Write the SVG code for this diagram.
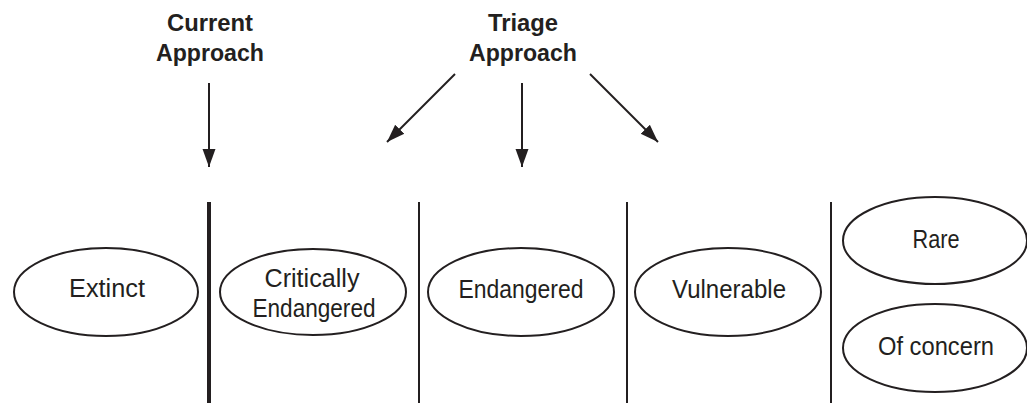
<svg xmlns="http://www.w3.org/2000/svg" width="1027" height="403" viewBox="0 0 1027 403">
<style>
.node ellipse{fill:#fff;stroke:#231f20;stroke-width:2}
.lbl{font-family:"Liberation Sans",Arial,sans-serif;font-size:25px;fill:#231f20;text-anchor:middle}
.hdr{font-family:"Liberation Sans",Arial,sans-serif;font-size:24px;font-weight:bold;fill:#231f20;text-anchor:middle}
.conn line{stroke:#231f20;stroke-width:2;fill:none}
.div{stroke:#231f20;fill:none}
</style>
<defs>
<marker id="ah" viewBox="0 0 10 10" refX="10" refY="5" markerWidth="18" markerHeight="18" markerUnits="userSpaceOnUse" orient="auto">
<path d="M0,1.4 L10,5 L0,8.6 Z" fill="#231f20"/>
</marker>
</defs>
<rect width="1027" height="403" fill="#fff"/>
<g id="headers">
<text class="hdr" x="210" y="31" textLength="86" lengthAdjust="spacingAndGlyphs">Current</text>
<text class="hdr" x="210" y="61" textLength="108" lengthAdjust="spacingAndGlyphs">Approach</text>
<text class="hdr" x="523" y="31" textLength="70" lengthAdjust="spacingAndGlyphs">Triage</text>
<text class="hdr" x="523" y="61" textLength="108" lengthAdjust="spacingAndGlyphs">Approach</text>
</g>
<g id="dividers">
<line class="div" x1="209" y1="202" x2="209" y2="403" stroke-width="4"/>
<line class="div" x1="419" y1="202" x2="419" y2="403" stroke-width="2"/>
<line class="div" x1="627" y1="202" x2="627" y2="403" stroke-width="2"/>
<line class="div" x1="831" y1="202" x2="831" y2="403" stroke-width="2"/>
</g>
<g class="conn" id="connectors">
<line x1="209" y1="83" x2="209" y2="167" marker-end="url(#ah)"/>
<line x1="455" y1="74" x2="387" y2="142" marker-end="url(#ah)"/>
<line x1="522" y1="83" x2="522" y2="167" marker-end="url(#ah)"/>
<line x1="590" y1="74" x2="658" y2="142" marker-end="url(#ah)"/>
</g>
<g class="node" id="extinct">
<ellipse cx="106" cy="292" rx="92" ry="44"/>
<text class="lbl" x="107" y="297" textLength="76" lengthAdjust="spacingAndGlyphs">Extinct</text>
</g>
<g class="node" id="critically-endangered">
<ellipse cx="313" cy="292" rx="93" ry="43"/>
<text class="lbl" x="312" y="287" textLength="95" lengthAdjust="spacingAndGlyphs">Critically</text>
<text class="lbl" x="314" y="317" textLength="123" lengthAdjust="spacingAndGlyphs">Endangered</text>
</g>
<g class="node" id="endangered">
<ellipse cx="521" cy="292" rx="93" ry="44"/>
<text class="lbl" x="521" y="298" textLength="125" lengthAdjust="spacingAndGlyphs">Endangered</text>
</g>
<g class="node" id="vulnerable">
<ellipse cx="728" cy="292" rx="93" ry="44"/>
<text class="lbl" x="729" y="298" textLength="114" lengthAdjust="spacingAndGlyphs">Vulnerable</text>
</g>
<g class="node" id="rare">
<ellipse cx="935" cy="240.5" rx="92" ry="43.5"/>
<text class="lbl" x="936" y="248" textLength="47" lengthAdjust="spacingAndGlyphs">Rare</text>
</g>
<g class="node" id="of-concern">
<ellipse cx="935" cy="348" rx="92" ry="44"/>
<text class="lbl" x="936" y="355" textLength="116" lengthAdjust="spacingAndGlyphs">Of concern</text>
</g>
</svg>
